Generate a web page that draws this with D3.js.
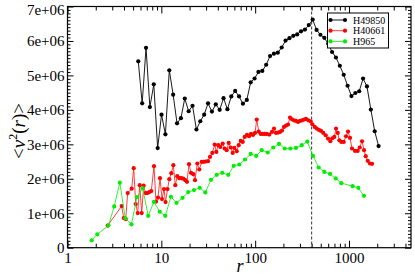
<!DOCTYPE html>
<html><head><meta charset="utf-8">
<script src="https://cdn.jsdelivr.net/npm/d3@7/dist/d3.min.js"></script>
<style>body{margin:0;background:#fff} svg{display:block}</style>
</head><body>
<svg id="c" width="415" height="275"></svg>
<script>
// ---- data (values of <v^2(r)> in units of 1e6) ----
const seriesNames = ["H49850", "H40661", "H965"];
const seriesColors = ["#000000", "#ff0000", "#00ee00"];

const rH49850 = [5.68,6.25,6.87,7.55,8.31,9.14,10.05,11.05,12.16,13.37,14.70,16.17,17.78,19.56,21.51,23.65,26.01,28.61,31.46,34.60,38.06,41.85,46.03,50.62,55.67,61.23,67.34,74.06,81.45,89.58,98.52,108.35,119.16,131.05,144.13,158.51,174.33,191.73,210.86,231.90,255.04,280.49,308.48,339.26,373.12,410.35,451.3,496.3,545.8,600.3,660.2,726.1,798.6,878.3,965.9,1062.3,1168.3,1284.9,1413.1,1554.1,1709.2,1879.8,2067.4];
const vH49850 = [5.41,4.19,5.80,4.08,4.74,2.89,3.86,3.29,5.15,4.44,3.61,3.76,4.33,3.96,4.12,3.43,3.67,3.86,4.19,3.95,4.16,4.00,4.34,4.02,4.39,4.55,4.39,4.18,4.29,4.80,4.91,5.10,5.13,5.31,5.56,5.63,5.66,5.81,6.01,6.08,6.15,6.19,6.28,6.33,6.46,6.62,6.32,6.18,6.09,5.92,5.68,5.52,5.28,5.02,4.70,4.40,4.49,4.54,4.91,4.68,4.01,3.38,2.95];

const rH40661 = [2.682,3.782,3.972,4.172,4.381,4.833,5.077,5.333,5.601,5.883,6.178,6.489,6.783,7.088,7.444,7.818,8.353,8.775,9.215,9.681,10.17,10.68,11.08,11.64,12.16,12.77,13.42,14.09,14.80,15.54,16.33,17.15,18.01,18.78,19.72,20.72,21.92,22.86,24.18,25.40,26.94,28.29,29.71,31.44,33.02,34.94,37.06,38.54,40.48,42.51,45.10,47.37,49.74,52.24,54.88,57.64,59.95,63.59,66.78,70.15,73.68,77.38,81.87,86.00,90.31,94.84,99.63,103.9,109.1,114.6,120.3,126.4,132.8,141.5,151.2,158.8,166.8,175.2,184.0,193.2,203.0,213.3,223.9,235.2,247.0,259.4,272.5,286.2,300.6,315.7,331.6,348.3,368.5,390.9,406.6,431.2,452.9,479.2,503.3,532.5,564.8,597.6,632.3,664.1,697.6,727.5,758.5,788.9,828.6,878.9,929.6,976.3,1025,1077,1159,1239,1301,1377,1446,1508,1584,1675,1760];
const vH40661 = [0.643,1.208,0.860,0.831,1.584,1.714,2.308,1.266,1.005,1.816,1.005,1.801,1.584,1.584,1.613,1.642,2.366,1.338,1.454,2.019,1.410,1.700,1.323,1.700,1.990,2.163,2.395,1.816,2.076,2.019,2.019,2.004,1.961,1.911,2.424,2.172,2.134,1.961,2.444,2.270,2.491,2.491,2.502,2.511,2.635,2.751,2.994,2.780,2.974,2.925,3.023,2.879,2.829,3.041,2.908,2.751,2.896,2.800,2.974,3.099,3.070,3.215,3.273,3.235,3.302,3.273,3.330,3.718,3.371,3.302,3.302,3.302,3.302,3.284,3.359,3.458,3.330,3.342,3.359,3.400,3.504,3.545,3.574,3.776,3.727,3.698,3.678,3.649,3.678,3.698,3.718,3.736,3.698,3.669,3.582,3.504,3.458,3.417,3.388,3.330,3.264,3.168,3.090,3.177,3.215,3.458,3.330,3.119,3.070,3.070,3.235,3.371,3.186,2.879,2.809,2.809,2.908,3.090,2.829,2.656,2.520,2.444,2.433];

const rH965 = [1.811,2.078,2.735,3.146,3.609,4.130,4.797,5.505,6.331,7.245,8.333,9.632,11.02,12.65,14.51,16.81,19.34,22.29,25.64,29.42,33.83,38.91,44.66,51.72,59.06,67.76,77.94,89.65,102.8,117.4,136.0,156.1,179.5,206.5,236.8,272.5,313.3,359.5,413.4,475.5,545.8,627.6,721.9,828.1,1095,1257,1445];
const vH965 = [0.214,0.388,0.649,1.199,1.888,0.854,0.678,1.468,1.729,0.924,1.329,1.043,0.924,1.477,1.303,1.448,1.613,1.671,1.738,1.604,1.969,2.114,2.172,2.114,2.375,2.415,2.560,2.722,2.664,2.829,2.763,2.908,3.012,2.879,2.879,2.896,2.974,3.081,2.664,2.328,2.198,2.140,2.010,1.874,1.787,1.738,1.506];

const xTickValues = [1, 10, 100, 1000];
const xTickLabels = ["1", "10", "100", "1000"];
const yTickValues = [0, 1e6, 2e6, 3e6, 4e6, 5e6, 6e6, 7e6];
const yTickLabels = ["0", "1e+06", "2e+06", "3e+06", "4e+06", "5e+06", "6e+06", "7e+06"];
const rVirial = 400;

// ---- layout ----
const svg = d3.select("#c");
const L = 67.5, R = 411, T = 6.5, B = 247.7;
const x = d3.scaleLog().domain([1, 4580]).range([L, R]);
const y = d3.scaleLinear().domain([0, 7e6]).range([B, T]);
const serif = "'Liberation Serif','Times New Roman',serif";

const series = [
  {name: seriesNames[0], color: seriesColors[0], line: "#000", data: rH49850.map((r,i)=>({r, v: vH49850[i]*1e6}))},
  {name: seriesNames[1], color: seriesColors[1], line: "#ff2a2a", data: rH40661.map((r,i)=>({r, v: vH40661[i]*1e6}))},
  {name: seriesNames[2], color: seriesColors[2], line: "#22ee22", data: rH965.map((r,i)=>({r, v: vH965[i]*1e6}))}
];

// minor ticks
const xMinor = [];
for (let d = 1; d <= 1000; d *= 10) for (let k = 2; k <= 9; k++) if (d*k < 4580) xMinor.push(d*k);
const yMinor = d3.range(0, 7e6 + 1, 1e5).filter(v => v % 1e6 !== 0);

function styleAxis(g){ g.select(".domain").remove(); g.selectAll("line").attr("stroke","#000").attr("stroke-width",1); }

svg.append("g").attr("transform",`translate(0,${B})`)
  .call(d3.axisBottom(x).tickValues(xMinor).tickSize(-4).tickFormat("")).call(styleAxis);
svg.append("g").attr("transform",`translate(0,${B})`)
  .call(d3.axisBottom(x).tickValues(xTickValues).tickSize(-7).tickPadding(5).tickFormat((d,i)=>xTickLabels[i]))
  .call(styleAxis).selectAll("text").attr("font-family",serif).attr("font-size",15).attr("fill","#000");
svg.append("g").attr("transform",`translate(0,${T})`)
  .call(d3.axisTop(x).tickValues(xMinor).tickSize(-4).tickFormat("")).call(styleAxis);
svg.append("g").attr("transform",`translate(0,${T})`)
  .call(d3.axisTop(x).tickValues(xTickValues).tickSize(-7).tickFormat("")).call(styleAxis);

svg.append("g").attr("transform",`translate(${L},0)`)
  .call(d3.axisLeft(y).tickValues(yMinor).tickSize(-3).tickFormat("")).call(styleAxis);
const yAx = svg.append("g").attr("transform",`translate(${L},0)`)
  .call(d3.axisLeft(y).tickValues(yTickValues).tickSize(-6).tickPadding(3).tickFormat((d,i)=>yTickLabels[i]))
  .call(styleAxis);
yAx.selectAll("text").attr("font-family",serif).attr("font-size",15).attr("fill","#000");
yAx.selectAll(".tick text").filter(d => d === 7e6).attr("dy","0.5em");
svg.append("g").attr("transform",`translate(${R},0)`)
  .call(d3.axisRight(y).tickValues(yMinor).tickSize(-3).tickFormat("")).call(styleAxis);
svg.append("g").attr("transform",`translate(${R},0)`)
  .call(d3.axisRight(y).tickValues(yTickValues).tickSize(-6).tickFormat("")).call(styleAxis);

// frame
svg.append("rect").attr("x",L).attr("y",T).attr("width",R-L).attr("height",B-T)
  .attr("fill","none").attr("stroke","#000").attr("stroke-width",1.2);

// dashed virial radius line
svg.append("line").attr("x1",x(rVirial)).attr("x2",x(rVirial)).attr("y1",T).attr("y2",B)
  .attr("stroke","#000").attr("stroke-width",0.8).attr("stroke-dasharray","3,2");

// series
const lineGen = d3.line().x(d=>x(d.r)).y(d=>y(d.v));
series.forEach(s => {
  const g = svg.append("g");
  g.append("path").datum(s.data).attr("d",lineGen).attr("fill","none").attr("stroke",s.line).attr("stroke-width",0.9);
  g.selectAll("circle").data(s.data).join("circle")
    .attr("cx",d=>x(d.r)).attr("cy",d=>y(d.v)).attr("r",2.1).attr("fill",s.color);
});

// axis titles
svg.append("text").attr("x",240).attr("y",272).attr("text-anchor","middle")
  .attr("font-family",serif).attr("font-size",18).attr("font-style","italic").text("r");
const yt = svg.append("text").attr("transform","translate(25,131) rotate(-90)").attr("text-anchor","middle")
  .attr("font-family",serif).attr("font-size",19);
yt.append("tspan").text("<");
yt.append("tspan").attr("font-style","italic").text("v");
yt.append("tspan").attr("font-size",12).attr("dy",-8).text("2");
yt.append("tspan").attr("dy",8).text("(");
yt.append("tspan").attr("font-style","italic").text("r");
yt.append("tspan").text(")>");

// legend
const lg = svg.append("g");
lg.append("rect").attr("x",327.5).attr("y",13).attr("width",61).attr("height",35)
  .attr("fill","#fff").attr("stroke","#000").attr("stroke-width",1);
series.forEach((s,i) => {
  const yy = 20 + i*10.7;
  lg.append("line").attr("x1",330.5).attr("x2",345).attr("y1",yy).attr("y2",yy).attr("stroke",s.line).attr("stroke-width",0.9);
  [330.5,345].forEach(cx => lg.append("circle").attr("cx",cx).attr("cy",yy).attr("r",2.1).attr("fill",s.color));
  lg.append("text").attr("x",353).attr("y",yy).attr("dy","0.35em").attr("font-family",serif)
    .attr("font-size",10).text(s.name);
});
</script>
</body></html>
